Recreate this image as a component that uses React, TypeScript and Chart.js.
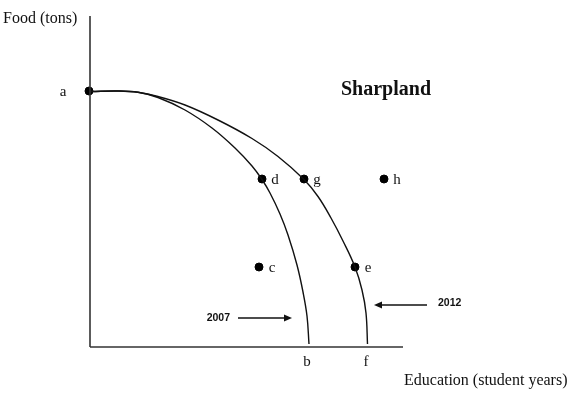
import { useEffect, useRef } from 'react'
import { Chart, registerables } from 'chart.js'

Chart.register(...registerables)

// production possibility frontiers (education, food)
const curve2007X = [1, 28, 48, 68, 95, 122, 145, 162, 172, 180, 190, 198, 207, 213, 217, 219]
const curve2007Y = [255.5, 256, 254.7, 249.5, 237, 219, 199, 181, 167.5, 154, 133, 112, 82, 55, 31, 3]
const curve2012X = [1, 28, 48, 68, 95, 128, 162, 188, 214, 228, 241, 253, 265, 272, 276, 277.5]
const curve2012Y = [255.5, 256, 254.7, 250.5, 242, 227, 208.5, 190.5, 167.5, 150.5, 129, 106, 80, 57, 34, 3]

// labelled points
const pointLabels = ['a', 'd', 'g', 'h', 'c', 'e']
const pointX = [-1, 172, 214, 294, 169, 265]
const pointY = [256, 168, 168, 168, 80, 80]

// intercepts on the education axis
const interceptLabels = ['b', 'f']
const interceptX = [219, 278]

// year arrows: [from, to, y]
const yearLabels = ['2007', '2012']
const arrowFromX = [148, 337]
const arrowToX = [202, 284]
const arrowY = [29, 42]

const xMax = 313
const yMax = 331

const SERIF = '"Liberation Serif", "Times New Roman", serif'
const SANS = '"Liberation Sans", Arial, sans-serif'

const toPoints = (xs: number[], ys: number[]) => xs.map((x, i) => ({ x, y: ys[i] }))

const annotations = {
  id: 'annotations',
  afterDatasetsDraw(chart: Chart) {
    const { ctx, chartArea } = chart
    const sx = chart.scales.x
    const sy = chart.scales.y
    ctx.save()
    ctx.fillStyle = '#111'
    ctx.strokeStyle = '#111'

    // point letters
    ctx.font = `15px ${SERIF}`
    ctx.textBaseline = 'middle'
    ctx.textAlign = 'center'
    pointLabels.forEach((lbl, i) => {
      const px = sx.getPixelForValue(pointX[i])
      const py = sy.getPixelForValue(pointY[i])
      const dx = lbl === 'a' ? -26 : 13
      ctx.fillText(lbl, px + dx, py + 1)
    })
    interceptLabels.forEach((lbl, i) => {
      ctx.fillText(lbl, sx.getPixelForValue(interceptX[i]) - 2, chartArea.bottom + 15)
    })

    // axis titles
    ctx.font = `16px ${SERIF}`
    ctx.textAlign = 'left'
    ctx.textBaseline = 'alphabetic'
    ctx.fillText('Food (tons)', 3, chartArea.top + 7)
    ctx.fillText('Education (student years)', 404, chartArea.bottom + 38)

    ctx.font = `bold 20px ${SERIF}`
    ctx.textAlign = 'center'
    ctx.fillText('Sharpland', 386, 95)

    // year arrows
    ctx.font = `bold 10.5px ${SANS}`
    ctx.textBaseline = 'middle'
    ctx.lineWidth = 1.3
    yearLabels.forEach((lbl, i) => {
      const x0 = sx.getPixelForValue(arrowFromX[i])
      const x1 = sx.getPixelForValue(arrowToX[i])
      const y = sy.getPixelForValue(arrowY[i])
      const dir = Math.sign(x1 - x0)
      ctx.beginPath()
      ctx.moveTo(x0, y)
      ctx.lineTo(x1 - dir * 7, y)
      ctx.stroke()
      ctx.beginPath()
      ctx.moveTo(x1, y)
      ctx.lineTo(x1 - dir * 8, y - 3.5)
      ctx.lineTo(x1 - dir * 8, y + 3.5)
      ctx.closePath()
      ctx.fill()
      if (dir > 0) {
        ctx.textAlign = 'right'
        ctx.fillText(lbl, x0 - 8, y)
      } else {
        ctx.textAlign = 'left'
        ctx.fillText(lbl, x0 + 11, y - 2)
      }
    })
    ctx.restore()
  },
}

export default function App() {
  const canvasRef = useRef<HTMLCanvasElement>(null)
  const chartRef = useRef<Chart | null>(null)

  useEffect(() => {
    if (!canvasRef.current) return
    if (chartRef.current) chartRef.current.destroy()

    const lineStyle = {
      type: 'line' as const,
      borderColor: '#111',
      borderWidth: 1.4,
      pointRadius: 0,
      fill: false,
      clip: false as const,
      tension: 0.4,
    }

    chartRef.current = new Chart(canvasRef.current, {
      type: 'scatter',
      data: {
        datasets: [
          {
            ...lineStyle,
            label: 'y axis',
            data: [{ x: 0, y: 0 }, { x: 0, y: yMax }],
            borderColor: '#333',
            borderWidth: 1.6,
            tension: 0,
          },
          {
            ...lineStyle,
            label: 'x axis',
            data: [{ x: 0, y: 0 }, { x: xMax, y: 0 }],
            borderColor: '#333',
            borderWidth: 1.6,
            tension: 0,
          },
          { ...lineStyle, label: '2007', data: toPoints(curve2007X, curve2007Y) },
          { ...lineStyle, label: '2012', data: toPoints(curve2012X, curve2012Y) },
          {
            label: 'points',
            data: toPoints(pointX, pointY),
            pointRadius: 4,
            pointBackgroundColor: '#000',
            pointBorderColor: '#000',
            clip: false,
          },
        ],
      },
      options: {
        animation: false,
        responsive: true,
        maintainAspectRatio: false,
        layout: { padding: { left: 90, right: 175, top: 16, bottom: 71 } },
        plugins: {
          legend: { display: false },
          tooltip: { enabled: false },
        },
        scales: {
          x: { type: 'linear', min: 0, max: xMax, display: false },
          y: { type: 'linear', min: 0, max: yMax, display: false },
        },
      },
      plugins: [annotations],
    })

    return () => {
      chartRef.current?.destroy()
      chartRef.current = null
    }
  }, [])

  return (
    <div style={{ position: 'absolute', left: 0, top: 0, width: 578, height: 418, background: '#fff' }}>
      <canvas ref={canvasRef}></canvas>
    </div>
  )
}
